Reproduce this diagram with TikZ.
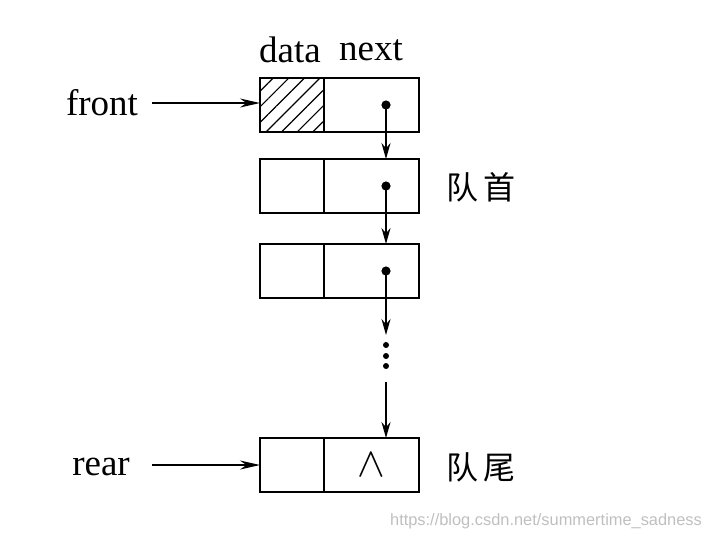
\documentclass[tikz,border=0pt]{standalone}
\usepackage{fontspec}
\setmainfont{Liberation Serif}
\newfontfamily\cjk{Noto Sans CJK SC}
\newfontfamily\wmfont{Liberation Sans}
\usetikzlibrary{arrows.meta, positioning, patterns.meta}

\begin{document}
\begin{tikzpicture}[x=0.5pt, y=-0.5pt,
  dfield/.style={rectangle, draw, line width=1pt, minimum width=32pt,
                 minimum height=27pt, inner sep=0pt, outer sep=0pt},
  nfield/.style={rectangle, draw, line width=1pt, minimum width=47.5pt,
                 minimum height=27pt, inner sep=0pt, outer sep=0pt,
                 font=\fontsize{21}{22}\selectfont},
  ptr/.style={-{Stealth[length=8pt, width=4.5pt]}, line width=0.8pt},
  hptr/.style={-{Stealth[length=10pt, width=4.5pt]}, line width=0.8pt},
  lbl/.style={font=\fontsize{18.5}{20}\selectfont},
  cn/.style={font=\fontsize{16}{18}\selectfont\cjk}
]
  \useasboundingbox (0,0) rectangle (710,538);

  \node[dfield, pattern={Lines[angle=45, distance=5.5pt, line width=0.6pt]}] (d1) at (292,105) {};
  \node[nfield, right=0pt of d1] (n1) {};
  \node[dfield] (d2) at (292,186) {};
  \node[nfield, right=0pt of d2] (n2) {};
  \node[dfield] (d3) at (292,271) {};
  \node[nfield, right=0pt of d3] (n3) {};
  \node[dfield] (d4) at (292,465) {};
  \node[nfield, right=0pt of d4] (n4) {$\wedge$};

  \node[lbl] (data) at (290,50) {data};
  \node[lbl] (next) at (371,50) {next};
  \node[lbl] (front) at (102,103) {front};
  \node[lbl] (rear) at (101,467) {rear};
  \node[cn] (head) at (481,187) {队\hspace{3pt}首};
  \node[cn] (tail) at (481,467) {队\hspace{3pt}尾};

  \coordinate (p1) at ([xshift=7.25pt]n1.center);
  \coordinate (p2) at ([xshift=7.25pt]n2.center);
  \coordinate (p3) at ([xshift=7.25pt]n3.center);
  \coordinate (gapA) at (p3 |- 0,335);
  \coordinate (gapB) at (p3 |- 0,382);

  \foreach \p in {p1,p2,p3} \fill (\p) circle (2.3pt);
  \foreach \y in {345,356,366} \fill (p3 |- 0,\y) circle (1.5pt);

  \draw[hptr, shorten <=3.5pt] (front.east) -- (front.east -| d1.west);
  \draw[hptr, shorten <=7.5pt] (rear.east |- d4.west) -- (d4.west);
  \draw[ptr] (p1) -- (p1 |- n2.north);
  \draw[ptr] (p2) -- (p2 |- n3.north);
  \draw[ptr] (p3) -- (gapA);
  \draw[ptr] (gapB) -- (n4.north -| gapB);

  \node[font=\wmfont\fontsize{8.2}{10}\selectfont, text=black!25] (mark) at (546,521)
    {https://blog.csdn.net/summertime\_sadness};
\end{tikzpicture}
\end{document}
